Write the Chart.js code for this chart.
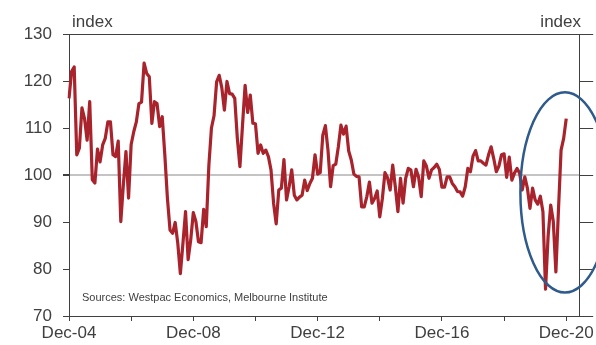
<!DOCTYPE html>
<html>
<head>
<meta charset="utf-8">
<script src="https://cdn.jsdelivr.net/npm/chart.js@4"></script>
<style>
body{margin:0;background:#fff;}
#wrap{width:596px;height:345px;}
</style>
</head>
<body>
<div id="wrap"><canvas id="chart" width="596" height="345"></canvas></div>
<script>

// months on the x axis, Dec-04 through May-21
const monthNames = ["Jan","Feb","Mar","Apr","May","Jun","Jul","Aug","Sep","Oct","Nov","Dec"];
const months = [];
for(let i=0;i<198;i++){
  const mi = (11 + i) % 12;
  const yr = 2004 + Math.floor((11 + i) / 12);
  months.push(monthNames[mi] + "-" + String(yr % 100).padStart(2,"0"));
}

// consumer sentiment index, monthly Dec-04 .. Dec-20
const sentiment = [
116.3,122,123,104.3,105.7,114.3,112,107.4,115.6,99,98.3,105.5,
102.8,106.4,107.8,111.3,111.3,104.3,103.9,107.2,90.1,98,105,95.1,
106.5,109.2,111.3,115.2,115.5,123.8,121.6,120.9,111,115.6,115.2,110.3,
112.4,104.3,95.1,88.3,87.6,89.9,85.5,79,85.5,92.2,82,86.2,
92,90.1,85.8,85.6,92.7,89,102,110,112.6,119.8,121.2,118.6,
113.8,119.9,117.3,117.2,116.3,107.8,101.8,110.6,119.1,113.3,117,111,
110.9,104.6,106.4,104.6,105.3,103.9,101.1,94,89.6,96.8,97.2,103.3,
94.7,97.5,101.1,95.7,94.7,95.3,95.7,98.9,96.7,98.2,99.3,104.3,
100.2,100.5,108.5,110.5,105.3,97.5,102,102.3,106,110.6,108.7,110.4,
105.1,103.2,100.2,99.7,99.6,93.2,93.2,95.4,98.5,94,95,96.6,
91.1,95,100.5,99.4,96.8,102.1,97.5,92.2,99.3,94,99.3,101.4,
101.1,97.5,101.2,99.5,95.4,103,101.9,99.3,101.1,101.6,102.3,101.2,
97.4,97.4,99.6,99.6,98.2,97.5,96.5,96.4,95.5,97.5,101.4,100.7,
104,105.2,103,103,102.5,102.1,104.3,106,103.5,100.7,101.9,104.3,
104.5,99.5,103.8,98.9,100.4,101.4,100.4,96.8,99.6,97.2,92.9,97.2,
94.7,93.8,95.5,92.2,75.7,87,93.6,90.1,79.4,92.6,105.3,107.8,
112
];

const yTicks = [70,80,90,100,110,120,130];
const xTickLabels = ["Dec-04","Dec-08","Dec-12","Dec-16","Dec-20"];

// highlight ellipse around the 2020 swing (centre month index, centre value, half sizes)
const ringCentre = [191.5, 96.3];
const ringHalf = [17.2, 21.3];

const textColor = "#404040";
const font = "'Liberation Sans', Arial, sans-serif";

const extras = {
  id:"extras",
  afterDraw(c){
    const ctx = c.ctx;
    const x = c.scales.x, y = c.scales.y;
    ctx.save();
    ctx.fillStyle = textColor;
    ctx.font = "17px " + font;
    ctx.textBaseline = "alphabetic";
    ctx.textAlign = "left";
    ctx.fillText("index", 72, 27);
    ctx.textAlign = "right";
    ctx.fillText("index", 581, 27);
    ctx.font = "11px " + font;
    ctx.textAlign = "left";
    ctx.textBaseline = "middle";
    ctx.fillText("Sources: Westpac Economics, Melbourne Institute", 82, 298);

    const cx = x.getPixelForValue(ringCentre[0]);
    const cy = y.getPixelForValue(ringCentre[1]);
    const rx = x.getPixelForValue(ringCentre[0] + ringHalf[0]) - cx;
    const ry = cy - y.getPixelForValue(ringCentre[1] + ringHalf[1]);
    ctx.beginPath();
    ctx.ellipse(cx, cy, rx, ry, 0, 0, Math.PI*2);
    ctx.strokeStyle = "#2f5a8c";
    ctx.lineWidth = 2.5;
    ctx.stroke();
    ctx.restore();
  }
};

new Chart(document.getElementById("chart"),{
  type:"line",
  data:{
    labels:months,
    datasets:[{
      data:sentiment,
      borderColor:"#a8232b",
      borderWidth:3.2,
      borderJoinStyle:"round",
      pointRadius:0,
      tension:0,
      yAxisID:"y"
    }]
  },
  options:{
    responsive:false,
    animation:false,
    layout:{padding:{top:34,left:0,right:0,bottom:0}},
    plugins:{legend:{display:false},tooltip:{enabled:false}},
    scales:{
      x:{
        type:"category",
        offset:false,
        afterBuildTicks(axis){
          axis.ticks = axis.ticks.filter(t => t.value % 24 === 0);
        },
        afterFit(axis){ axis.height = 29; },
        ticks:{
          autoSkip:false,
          maxRotation:0,
          padding:2,
          color:textColor,
          font:{family:font,size:17},
          callback(v){
            const l = this.getLabelForValue(v);
            return xTickLabels.includes(l) ? l : "";
          }
        },
        grid:{drawOnChartArea:false,drawTicks:true,tickLength:5,tickColor:textColor},
        border:{display:true,color:textColor,width:1}
      },
      y:{
        position:"left",
        min:70,max:130,
        afterBuildTicks(axis){ axis.ticks = yTicks.map(v => ({value:v})); },
        afterFit(axis){ axis.width = 69; },
        ticks:{color:textColor,font:{family:font,size:17},padding:11},
        grid:{
          drawTicks:true,
          tickLength:6,
          tickColor:textColor,
          color(ctx){
            if(!ctx.tick) return "rgba(0,0,0,0)";
            if(ctx.tick.value === 100) return "#c4c4c4";
            if(ctx.tick.value === 130) return textColor;
            return "rgba(0,0,0,0)";
          },
          lineWidth(ctx){
            return ctx.tick && ctx.tick.value === 100 ? 2 : 1;
          }
        },
        border:{display:true,color:textColor,width:1}
      },
      y2:{
        position:"right",
        min:70,max:130,
        afterBuildTicks(axis){ axis.ticks = yTicks.map(v => ({value:v})); },
        afterFit(axis){ axis.width = 14; },
        ticks:{callback(){ return ""; }},
        grid:{drawOnChartArea:false,drawTicks:true,tickLength:14,tickColor:textColor},
        border:{display:true,color:textColor,width:1}
      }
    }
  },
  plugins:[extras]
});

</script>
</body>
</html>
